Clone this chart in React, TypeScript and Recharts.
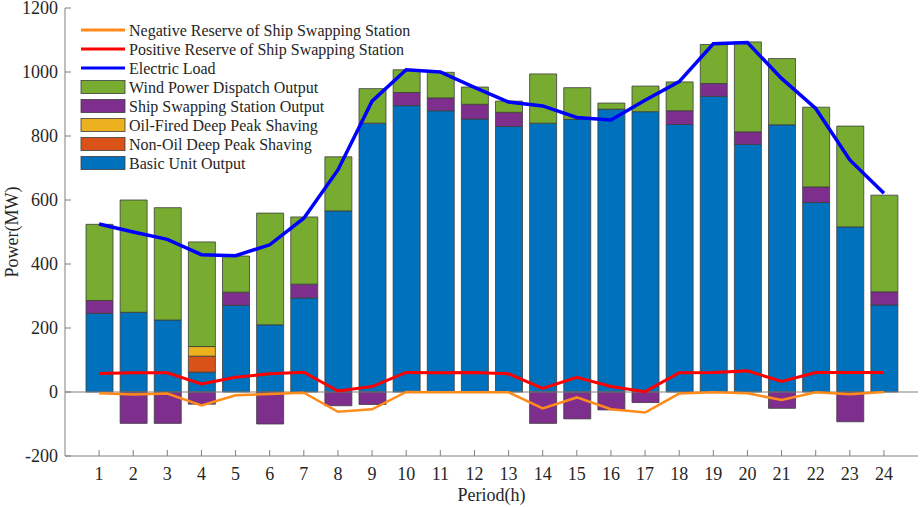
import React from 'react';
import { Bar, ComposedChart, Line, ReferenceLine, XAxis, YAxis } from 'recharts';

const hours = [1, 2, 3, 4, 5, 6, 7, 8, 9, 10, 11, 12, 13, 14, 15, 16, 17, 18, 19, 20, 21, 22, 23, 24];

const basicUnit = [246, 249, 225, 62, 271, 210, 294, 566, 840, 895, 879, 853, 830, 840, 852, 884, 876, 836, 924, 774, 835, 592, 516, 272];
const nonOilPeak = [0, 0, 0, 50, 0, 0, 0, 0, 0, 0, 0, 0, 0, 0, 0, 0, 0, 0, 0, 0, 0, 0, 0, 0];
const oilFiredPeak = [0, 0, 0, 30, 0, 0, 0, 0, 0, 0, 0, 0, 0, 0, 0, 0, 0, 0, 0, 0, 0, 0, 0, 0];
const shipStation = [40, -98, -98, -38, 41, -100, 43, -43, -39, 41, 40, 46, 44, -98, -84, -56, -33, 43, 40, 39, -51, 49, -93, 41];
const windDispatch = [238, 351, 351, 327, 113, 349, 210, 169, 108, 71, 80, 54, 35, 154, 99, 19, 80, 90, 122, 281, 207, 249, 315, 302];

const electricLoad = [525, 500, 477, 429, 426, 460, 543, 694, 909, 1007, 1000, 952, 906, 894, 858, 850, 912, 970, 1088, 1092, 980, 886, 725, 621];
const positiveReserve = [58, 60, 60, 25, 46, 57, 62, 3, 17, 61, 60, 61, 57, 11, 46, 17, 1, 60, 61, 66, 33, 61, 61, 61];
const negativeReserve = [-4, -8, -5, -42, -10, -6, -2, -62, -54, 0, -1, -1, -1, -51, -17, -54, -64, -5, -1, -4, -25, -1, -7, 0];

const yTicks = [-200, 0, 200, 400, 600, 800, 1000, 1200];

const data = hours.map((hour, i) => ({
  hour,
  basic: basicUnit[i],
  nonOil: nonOilPeak[i],
  oil: oilFiredPeak[i],
  ship: shipStation[i],
  wind: windDispatch[i],
  load: electricLoad[i],
  posRes: positiveReserve[i],
  negRes: negativeReserve[i],
}));

const FONT = '"Liberation Serif", "Times New Roman", serif';
const AXIS = '#808080';
const TEXT = '#262626';
const OUTLINE = '#3c3c3c';
const TICK_LEN = 6;
const BOTTOM_GAP = 11;
const LEFT_GAP = 7;

const legendItems = [
  { label: 'Negative Reserve of Ship Swapping Station', color: '#ff8c1a', line: true },
  { label: 'Positive Reserve of Ship Swapping Station', color: '#ff0000', line: true },
  { label: 'Electric Load', color: '#0000ff', line: true },
  { label: 'Wind Power Dispatch Output', color: '#77ac30', line: false },
  { label: 'Ship Swapping Station Output', color: '#7e2f8e', line: false },
  { label: 'Oil-Fired Deep Peak Shaving', color: '#edb120', line: false },
  { label: 'Non-Oil Deep Peak Shaving', color: '#d95319', line: false },
  { label: 'Basic Unit Output', color: '#0072bd', line: false },
];

function ChartLegend() {
  return (
    <svg width={340} height={160} style={{ position: 'absolute', left: 80, top: 20 }}>
      {legendItems.map((item, i) => {
        const cy = 10 + i * 19;
        return (
          <g key={item.label}>
            {item.line ? (
              <line x1={1} x2={45} y1={cy} y2={cy} stroke={item.color} strokeWidth={3} />
            ) : (
              <rect x={1} y={cy - 6.5} width={44} height={13} fill={item.color} stroke={OUTLINE} strokeWidth={0.8} />
            )}
            <text x={49} y={cy} dy="0.35em" fontFamily={FONT} fontSize={16} fill={TEXT}>
              {item.label}
            </text>
          </g>
        );
      })}
    </svg>
  );
}

function YLabel(props: any) {
  const vb = props.viewBox;
  const x = vb.x + 18;
  const y = vb.y + vb.height / 2;
  return (
    <text x={x} y={y} transform={`rotate(-90 ${x} ${y})`} textAnchor="middle" fontFamily={FONT} fontSize={18} fill={TEXT}>
      Power(MW)
    </text>
  );
}

// bottom: tick text sits BOTTOM_GAP below the axis line, tick mark points up into the plot
function BottomTick(props: any) {
  const { x, y, payload } = props;
  const axisY = y - BOTTOM_GAP;
  return (
    <g>
      <line x1={x} x2={x} y1={axisY} y2={axisY - TICK_LEN} stroke={AXIS} strokeWidth={1} />
      <text x={x} y={y} dy="0.71em" textAnchor="middle" fontFamily={FONT} fontSize={18} fill={TEXT}>
        {payload.value}
      </text>
    </g>
  );
}

function LeftTick(props: any) {
  const { x, y, payload } = props;
  const axisX = x + LEFT_GAP;
  return (
    <g>
      <line x1={axisX} x2={axisX + TICK_LEN} y1={y} y2={y} stroke={AXIS} strokeWidth={1} />
      <text x={x} y={y} dy="0.355em" textAnchor="end" fontFamily={FONT} fontSize={18} fill={TEXT}>
        {payload.value}
      </text>
    </g>
  );
}

function TopTick(props: any) {
  const { x, y } = props;
  return <line x1={x} x2={x} y1={y} y2={y + TICK_LEN} stroke={AXIS} strokeWidth={1} />;
}

function RightTick(props: any) {
  const { x, y } = props;
  return <line x1={x} x2={x - TICK_LEN} y1={y} y2={y} stroke={AXIS} strokeWidth={1} />;
}

const pad = { left: 17, right: 17 };

export default function App() {
  return (
    <div style={{ position: 'absolute', left: 0, top: 0, width: 920, height: 507, background: '#fff' }}>
      <ComposedChart
        width={920}
        height={507}
        data={data}
        stackOffset="sign"
        margin={{ top: 8, right: 2, bottom: 0, left: 0 }}
      >
        <XAxis
          dataKey="hour"
          height={51}
          padding={pad}
          tick={<BottomTick />}
          tickLine={false}
          tickSize={0}
          tickMargin={BOTTOM_GAP}
          interval={0}
          axisLine={{ stroke: AXIS }}
          label={{ value: 'Period(h)', position: 'insideBottom', offset: 6, fill: TEXT, fontSize: 18, fontFamily: FONT }}
        />
        <XAxis
          xAxisId="top"
          dataKey="hour"
          orientation="top"
          height={0}
          padding={pad}
          tick={<TopTick />}
          tickLine={false}
          tickSize={0}
          tickMargin={0}
          interval={0}
          axisLine={{ stroke: AXIS }}
        />
        <YAxis
          width={65}
          domain={[-200, 1200]}
          ticks={yTicks}
          tick={<LeftTick />}
          tickLine={false}
          tickSize={0}
          tickMargin={LEFT_GAP}
          interval={0}
          axisLine={{ stroke: AXIS }}
          label={{ content: <YLabel /> }}
        />
        <YAxis
          yAxisId="right"
          orientation="right"
          width={0}
          domain={[-200, 1200]}
          ticks={yTicks}
          tick={<RightTick />}
          tickLine={false}
          tickSize={0}
          tickMargin={0}
          interval={0}
          axisLine={{ stroke: AXIS }}
        />
        <Bar dataKey="basic" stackId="s" barSize={27} fill="#0072bd" stroke={OUTLINE} strokeWidth={0.8} isAnimationActive={false} />
        <Bar dataKey="nonOil" stackId="s" barSize={27} fill="#d95319" stroke={OUTLINE} strokeWidth={0.8} isAnimationActive={false} />
        <Bar dataKey="oil" stackId="s" barSize={27} fill="#edb120" stroke={OUTLINE} strokeWidth={0.8} isAnimationActive={false} />
        <Bar dataKey="ship" stackId="s" barSize={27} fill="#7e2f8e" stroke={OUTLINE} strokeWidth={0.8} isAnimationActive={false} />
        <Bar dataKey="wind" stackId="s" barSize={27} fill="#77ac30" stroke={OUTLINE} strokeWidth={0.8} isAnimationActive={false} />
        <ReferenceLine y={0} stroke={AXIS} strokeWidth={1} />
        <Line dataKey="negRes" type="linear" stroke="#ff8c1a" strokeWidth={2.5} dot={false} isAnimationActive={false} />
        <Line dataKey="posRes" type="linear" stroke="#ff0000" strokeWidth={3} dot={false} isAnimationActive={false} />
        <Line dataKey="load" type="linear" stroke="#0000ff" strokeWidth={3.5} dot={false} isAnimationActive={false} />
      </ComposedChart>
      <ChartLegend />
    </div>
  );
}
